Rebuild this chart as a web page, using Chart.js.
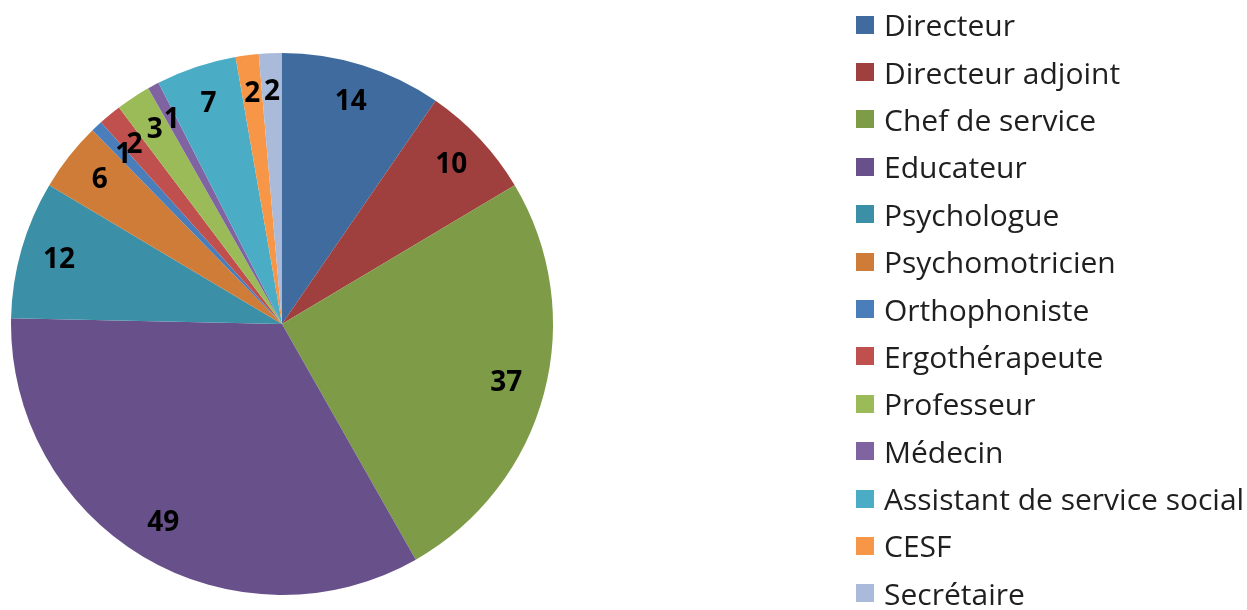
<!DOCTYPE html>
<html><head><meta charset="utf-8">
<script src="https://cdn.jsdelivr.net/npm/chart.js@4/dist/chart.umd.min.js"></script>
<style>
html,body{margin:0;padding:0;background:#fff;overflow:hidden;}
#wrap{position:relative;width:1247px;height:610px;}
#c{position:absolute;left:0;top:0;}
#legend{position:absolute;left:856px;top:1px;margin:0;padding:0;list-style:none;font-family:"Open Sans",sans-serif;font-size:30px;color:#1f1f1f;}
#legend li{height:47.4px;display:flex;align-items:center;white-space:nowrap;}
#legend .box{width:18px;height:18px;margin-right:10px;display:inline-block;flex:none;}
</style></head><body>
<div id="wrap"><canvas id="c" width="1247" height="610"></canvas><ul id="legend"></ul></div>
<script>
const categories = ["Directeur","Directeur adjoint","Chef de service","Educateur","Psychologue","Psychomotricien","Orthophoniste","Ergothérapeute","Professeur","Médecin","Assistant de service social","CESF","Secrétaire"];
const values = [14,10,37,49,12,6,1,2,3,1,7,2,2];
const colors = ["#3F6B9F","#A0403E","#7E9B48","#68518A","#3B8FA6","#CE7C38","#4A7EBB","#C0504D","#9BBB59","#8064A2","#4BACC6","#F79646","#A9BADA"];

const valueLabels = {
  id: 'valueLabels',
  afterDatasetsDraw(chart) {
    const ctx = chart.ctx;
    const meta = chart.getDatasetMeta(0);
    ctx.save();
    ctx.font = 'bold 28px "Open Sans", sans-serif';
    ctx.fillStyle = '#000';
    ctx.textAlign = 'center';
    ctx.textBaseline = 'middle';
    meta.data.forEach((arc, i) => {
      const p = arc.getProps(['x','y','startAngle','endAngle','outerRadius'], true);
      const mid = (p.startAngle + p.endAngle) / 2;
      const r = p.outerRadius * 0.856;
      ctx.fillText(String(chart.data.datasets[0].data[i]), p.x + Math.cos(mid) * r, p.y + Math.sin(mid) * r);
    });
    ctx.restore();
  }
};

const chart = new Chart(document.getElementById('c'), {
  type: 'pie',
  data: {
    labels: categories,
    datasets: [{ data: values, backgroundColor: colors, borderWidth: 0 }]
  },
  options: {
    responsive: false,
    animation: false,
    layout: { padding: { left: 11, right: 694, top: 53, bottom: 15 } },
    plugins: { legend: { display: false }, tooltip: { enabled: false } }
  },
  plugins: [valueLabels]
});

const ul = document.getElementById('legend');
chart.options.plugins.legend.labels.generateLabels(chart).forEach(item => {
  const li = document.createElement('li');
  const box = document.createElement('span');
  box.className = 'box';
  box.style.background = item.fillStyle;
  li.appendChild(box);
  li.appendChild(document.createTextNode(item.text));
  ul.appendChild(li);
});
</script>
</body></html>
